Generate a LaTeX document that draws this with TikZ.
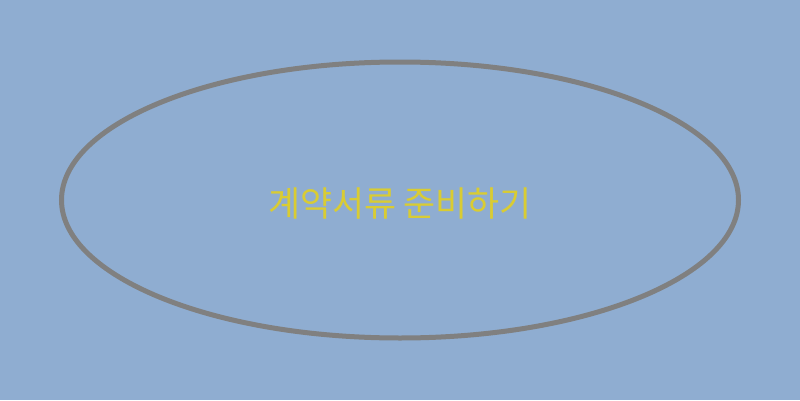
\documentclass[tikz,border=0pt]{standalone}
\usepackage{fontspec}
\newfontfamily\krfont{Noto Sans CJK KR}
\usetikzlibrary{shapes.geometric}
\definecolor{skyback}{HTML}{8FADD1}
\definecolor{rimgray}{HTML}{808080}
\definecolor{labelyellow}{HTML}{D9CC33}
\tikzset{
    x=1pt, y=1pt,
    task/.style={ellipse, draw=rimgray, line width=5pt, minimum width=677pt, minimum height=276pt, inner sep=0pt, text=labelyellow}, % the one big oval
    tasktext/.style={text=labelyellow, font=\krfont\fontsize{34.8}{40}\selectfont},
}
\begin{document}
\begin{tikzpicture}
    \fill[skyback] (0,0) rectangle (800,400);
    \useasboundingbox (0,0) rectangle (800,400);
    \node[task] (prep) at (400,200) {};
    \node[tasktext] (preplabel) at ([yshift=-3pt]prep.center) {계약서류 준비하기};
\end{tikzpicture}
\end{document}
